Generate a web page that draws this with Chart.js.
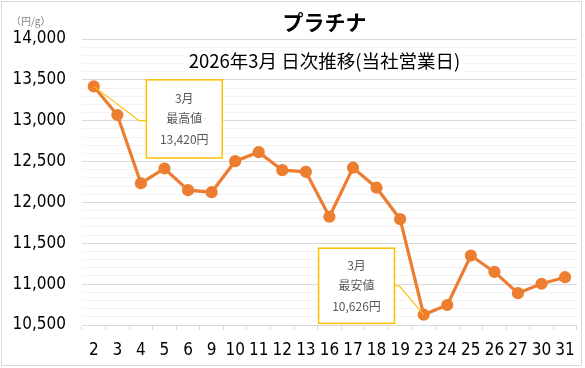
<!DOCTYPE html>
<html>
<head>
<meta charset="utf-8">
<script src="https://cdn.jsdelivr.net/npm/chart.js@4"></script>
<style>
html,body{margin:0;padding:0;background:#fff;}
canvas{display:block;}
</style>
</head>
<body>
<canvas id="c" width="585" height="368"></canvas>
<script>
// ---- data ----
const days = ['2','3','4','5','6','9','10','11','12','13','16','17','18','19','23','24','25','26','27','30','31'];
const prices = [13420, 13070, 12235, 12415, 12150, 12125, 12505, 12615, 12395, 12375, 11825, 12425, 12180, 11795, 10626, 10745, 11350, 11150, 10890, 11005, 11085];
const yTicks = [10500, 11000, 11500, 12000, 12500, 13000, 13500, 14000];
const titleText = 'プラチナ';
const subtitleText = '2026年3月 日次推移(当社営業日)';
const unitText = '（円/g）';
const monthText = '3月';
const maxLabel = '最高値';
const minLabel = '最安値';

const NUM_FONT = "'Liberation Sans Narrow', 'DejaVu Sans Condensed', 'Liberation Sans', sans-serif";
const JP_FONT = "'Noto Sans CJK JP', 'Noto Sans', sans-serif";
const fmt = v => v.toLocaleString('en-US');

const maxIdx = prices.indexOf(Math.max(...prices));
const minIdx = prices.indexOf(Math.min(...prices));

// callout geometry in data units (category index, value)
const callouts = [
  { idx: maxIdx, lines: [monthText, maxLabel, fmt(prices[maxIdx]) + '円'],
    box: { x0: 2.23, x1: 5.45, y0: 13500, y1: 12545 }, elbow: { x: 1.93, y: 13000 }, side: 'left' },
  { idx: minIdx, lines: [monthText, minLabel, fmt(prices[minIdx]) + '円'],
    box: { x0: 9.54, x1: 12.76, y0: 11440, y1: 10520 }, elbow: { x: 12.97, y: 10977 }, side: 'right' }
];

const decorPlugin = {
  id: 'decor',
  beforeDraw(chart) {
    const ctx = chart.ctx;
    ctx.save();
    ctx.fillStyle = '#fff';
    ctx.fillRect(0, 0, chart.width, chart.height);
    ctx.restore();
  },
  afterDatasetsDraw(chart) {
    const ctx = chart.ctx, xs = chart.scales.x, ys = chart.scales.y;
    ctx.save();
    callouts.forEach(c => {
      const px = xs.getPixelForValue(c.idx), py = ys.getPixelForValue(prices[c.idx]);
      const bx0 = xs.getPixelForValue(c.box.x0), bx1 = xs.getPixelForValue(c.box.x1);
      const by0 = ys.getPixelForValue(c.box.y0), by1 = ys.getPixelForValue(c.box.y1);
      const ex = xs.getPixelForValue(c.elbow.x), ey = ys.getPixelForValue(c.elbow.y);
      ctx.strokeStyle = '#FFC000';
      ctx.lineWidth = 1.2;
      ctx.beginPath();
      ctx.moveTo(px, py);
      ctx.lineTo(ex, ey);
      ctx.lineTo(c.side === 'left' ? bx0 : bx1, ey);
      ctx.stroke();
      ctx.fillStyle = '#fff';
      ctx.fillRect(bx0, by0, bx1 - bx0, by1 - by0);
      ctx.lineWidth = 1.5;
      ctx.strokeRect(bx0, by0, bx1 - bx0, by1 - by0);
      ctx.fillStyle = '#595959';
      ctx.font = '12px ' + JP_FONT;
      ctx.textAlign = 'center';
      ctx.textBaseline = 'middle';
      const cx = (bx0 + bx1) / 2, cy = (by0 + by1) / 2;
      c.lines.forEach((t, i) => ctx.fillText(t, cx, cy + (i - 1) * 20.5));
    });
    ctx.restore();
  },
  afterDraw(chart) {
    const ctx = chart.ctx, area = chart.chartArea;
    ctx.save();
    const cx = (area.left + area.right) / 2 - 5;
    ctx.textAlign = 'center';
    ctx.textBaseline = 'middle';
    ctx.fillStyle = '#000';
    ctx.font = 'bold 21px ' + JP_FONT;
    ctx.fillText(titleText, cx, 22);
    ctx.font = '18.5px ' + JP_FONT;
    const w = ctx.measureText(subtitleText).width;
    ctx.fillStyle = '#fff';
    ctx.fillRect(cx - w / 2 - 4, 50, w + 8, 23);
    ctx.fillStyle = '#000';
    ctx.fillText(subtitleText, cx, 61);
    ctx.fillStyle = '#7f7f7f';
    ctx.font = '10px ' + JP_FONT;
    ctx.textAlign = 'left';
    ctx.fillText(unitText, 11, 21);
    ctx.strokeStyle = '#D9D9D9';
    ctx.lineWidth = 1;
    ctx.strokeRect(1.5, 1.5, 580, 364);
    ctx.restore();
  }
};

new Chart(document.getElementById('c'), {
  type: 'line',
  data: {
    labels: days,
    datasets: [{
      data: prices,
      borderColor: '#ED7D31',
      backgroundColor: '#ED7D31',
      borderWidth: 3.2,
      pointRadius: 4.5,
      pointHoverRadius: 4.5,
      pointBackgroundColor: '#ED7D31',
      pointBorderColor: '#ED7D31',
      tension: 0
    }]
  },
  options: {
    responsive: false,
    devicePixelRatio: 1,
    animation: false,
    events: [],
    layout: { padding: { left: 0, right: 8, top: 39, bottom: 0 } },
    plugins: { legend: { display: false }, title: { display: false }, tooltip: { enabled: false } },
    scales: {
      x: {
        type: 'category',
        offset: true,
        grid: { offset: true, drawOnChartArea: false, drawTicks: true, tickLength: 5, color: '#D9D9D9', lineWidth: 1 },
        border: { display: true, color: '#D9D9D9', width: 1 },
        ticks: { color: '#000', font: { family: NUM_FONT, size: 17 }, padding: 10, maxRotation: 0, autoSkip: false },
        afterFit(s) { s.height = 43; }
      },
      y: {
        min: yTicks[0],
        max: yTicks[yTicks.length - 1],
        grid: {
          drawTicks: false,
          color: c => (c.tick && yTicks.includes(c.tick.value)) ? '#D9D9D9' : '#F2F2F2',
          lineWidth: 1
        },
        border: { display: false },
        ticks: {
          stepSize: 100,
          autoSkip: false,
          padding: 16,
          color: '#000',
          font: { family: NUM_FONT, size: 17 },
          callback: v => yTicks.includes(v) ? fmt(v) : ''
        },
        afterFit(s) { s.width = 82; }
      }
    }
  },
  plugins: [decorPlugin]
});
</script>
</body>
</html>
